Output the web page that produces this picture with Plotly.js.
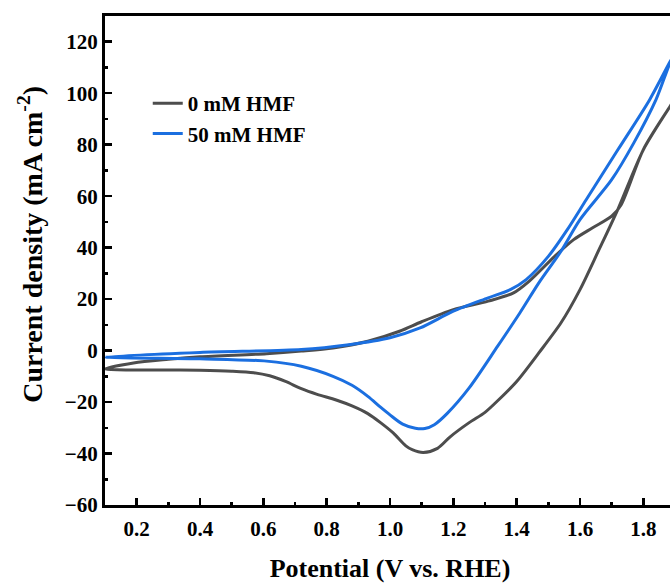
<!DOCTYPE html>
<html>
<head>
<meta charset="utf-8">
<script src="https://cdn.plot.ly/plotly-3.0.1.min.js"></script>
<style>
  html, body { margin: 0; padding: 0; overflow: hidden; background: #fff; }
  #chart { width: 675px; height: 584px; }
</style>
</head>
<body>
<div id="chart"></div>
<script>
// Potential (V vs. RHE) and current density (mA cm^-2)
// 0 mM HMF : anodic sweep then cathodic sweep
const hmf0_x = [0.10, 0.19, 0.30, 0.40, 0.61, 0.72, 0.82, 0.93, 1.03, 1.10, 1.20, 1.31, 1.39, 1.44, 1.52, 1.58, 1.64, 1.70, 1.73, 1.80, 1.885, 1.90,
                1.885, 1.80, 1.72, 1.66, 1.60, 1.54, 1.47, 1.40, 1.34, 1.30, 1.25, 1.19, 1.15, 1.105, 1.07, 1.05, 1.01, 0.97, 0.93, 0.88, 0.83, 0.77, 0.72, 0.67, 0.62, 0.57, 0.50, 0.40, 0.10];
const hmf0_y = [-7.1, -4.8, -3.4, -2.4, -1.2, -0.2, 1.0, 3.6, 7.5, 11.2, 15.9, 19.2, 22.4, 27.0, 36.6, 43.1, 47.7, 52.2, 56.7, 78.1, 95.0, 98.0,
                95.0, 78.0, 55.0, 39.2, 23.7, 10.8, -0.9, -12.0, -19.5, -24.0, -28.0, -33.5, -38.0, -39.6, -38.5, -37.0, -32.0, -28.0, -24.5, -21.5, -19.2, -17.0, -14.8, -12.0, -9.8, -8.6, -8.0, -7.6, -7.1];

// 50 mM HMF : anodic sweep then cathodic sweep
const hmf50_x = [0.10, 0.40, 0.72, 0.87, 1.00, 1.095, 1.20, 1.31, 1.38, 1.43, 1.50, 1.56, 1.62, 1.72, 1.82, 1.885, 1.90,
                 1.885, 1.84, 1.77, 1.70, 1.60, 1.54, 1.47, 1.41, 1.34, 1.25, 1.18, 1.14, 1.11, 1.08, 1.04, 1.00, 0.97, 0.93, 0.88, 0.82, 0.72, 0.61, 0.40, 0.10];
const hmf50_y = [-2.5, -0.7, 0.4, 2.3, 5.0, 8.8, 15.3, 20.5, 23.7, 27.6, 36.6, 47.0, 58.7, 78.1, 97.5, 112.4, 115.5,
                 112.0, 97.5, 80.7, 66.4, 50.9, 38.6, 26.3, 14.6, 1.7, -14.5, -24.5, -28.8, -30.3, -30.2, -28.6, -25.0, -22.0, -17.8, -13.5, -10.0, -6.1, -4.1, -3.2, -2.5];

const seriesNames = ['0 mM HMF', '50 mM HMF'];
const xTickVals = [0.2, 0.4, 0.6, 0.8, 1.0, 1.2, 1.4, 1.6, 1.8];
const xTickText = ['0.2', '0.4', '0.6', '0.8', '1.0', '1.2', '1.4', '1.6', '1.8'];
const yTickVals = [-60, -40, -20, 0, 20, 40, 60, 80, 100, 120];
const xTitle = 'Potential (V vs. RHE)';
const yTitle = 'Current density (mA cm<sup>-2</sup>)';

const serif = '"Liberation Serif", "Times New Roman", serif';

const traces = [
  { x: hmf0_x, y: hmf0_y, name: seriesNames[0], mode: 'lines',
    line: { color: '#4d4d4d', width: 3, shape: 'spline', smoothing: 0.8 } },
  { x: hmf50_x, y: hmf50_y, name: seriesNames[1], mode: 'lines',
    line: { color: '#1b6fe0', width: 3, shape: 'spline', smoothing: 0.8 } }
];

const axisCommon = {
  showgrid: false, zeroline: false,
  showline: true, linecolor: '#000', linewidth: 3, mirror: true,
  ticks: 'inside', ticklen: 7, tickwidth: 2.5, tickcolor: '#000',
  tickfont: { family: serif, size: 21, color: '#000', weight: 'bold' }
};

const layout = {
  width: 675, height: 584,
  margin: { l: 105, r: 0, t: 16, b: 79 },
  paper_bgcolor: '#fff', plot_bgcolor: '#fff',
  showlegend: true,
  legend: {
    x: 0.075, y: 0.863, xanchor: 'left', yanchor: 'top',
    bgcolor: 'rgba(0,0,0,0)', borderwidth: 0,
    font: { family: serif, size: 21, color: '#000', weight: 'bold' }
  },
  xaxis: Object.assign({}, axisCommon, {
    range: [0.1, 1.9],
    tickmode: 'array', tickvals: xTickVals, ticktext: xTickText,
    ticklabelstandoff: 3,
    minor: { ticks: 'inside', ticklen: 3, tickwidth: 2.5, tickcolor: '#000', dtick: 0.1, tick0: 0.1 },
    title: { text: xTitle, standoff: 19,
             font: { family: serif, size: 26, color: '#000', weight: 'bold' } }
  }),
  yaxis: Object.assign({}, axisCommon, {
    range: [-60, 130],
    tickmode: 'array', tickvals: yTickVals,
    minor: { ticks: 'inside', ticklen: 3, tickwidth: 2.5, tickcolor: '#000', dtick: 10, tick0: 0 }
  }),
  annotations: [{
    text: yTitle, textangle: -90, showarrow: false,
    xref: 'paper', yref: 'paper', x: -0.13, y: 0.534,
    xanchor: 'center', yanchor: 'middle',
    font: { family: serif, size: 28, color: '#000', weight: 'bold' }
  }]
};

Plotly.newPlot('chart', traces, layout, { displayModeBar: false, staticPlot: true });
</script>
</body>
</html>
